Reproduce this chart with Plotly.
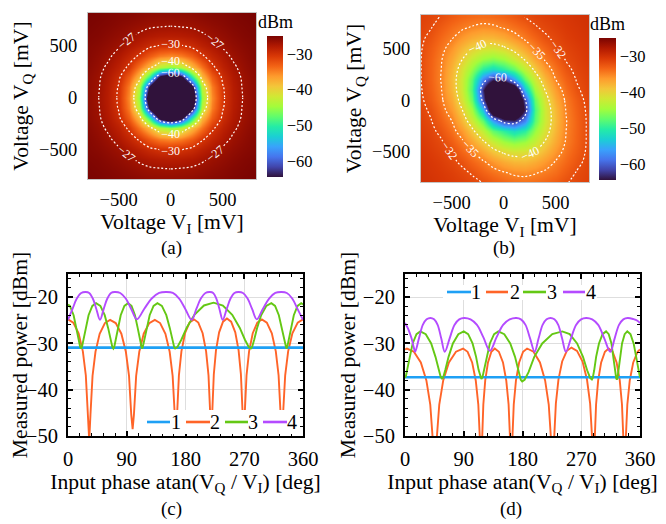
import plotly.graph_objects as go

# The page body keeps the browser's default 8 px margin, so the figure is laid out
# 8 px smaller than the window and all reference pixel positions are shifted by 8 px.
WIN_W, WIN_H, BODY = 666, 524, 8
W, H = WIN_W - BODY, WIN_H - BODY
FONT = "Liberation Serif"

# ---------------- heat-map data (dBm), rows follow volt_mv on the y axis ----------------
volt_mv = [-800, -700, -600, -500, -400, -300, -200, -100, 0, 100, 200, 300, 400, 500, 600, 700, 800]

power_a = [
    [-25.0, -25.1, -25.3, -25.5, -25.6, -25.8, -26.0, -26.1, -26.1, -26.1, -26.0, -25.8, -25.6, -25.5, -25.3, -25.1, -25.0],
    [-25.1, -25.3, -25.5, -25.8, -26.1, -26.4, -26.7, -26.8, -26.9, -26.8, -26.7, -26.4, -26.1, -25.8, -25.5, -25.3, -25.1],
    [-25.3, -25.5, -25.85, -26.25, -26.7, -27.3, -27.8, -28.1, -28.2, -28.1, -27.8, -27.3, -26.7, -26.25, -25.85, -25.5, -25.3],
    [-25.5, -25.8, -26.25, -26.8, -27.7, -28.5, -29.5, -30.2, -30.4, -30.2, -29.5, -28.5, -27.7, -26.8, -26.25, -25.8, -25.5],
    [-25.6, -26.1, -26.7, -27.7, -28.9, -30.4, -33.0, -34.8, -35.5, -34.8, -33.0, -30.4, -28.9, -27.7, -26.7, -26.1, -25.6],
    [-25.8, -26.4, -27.3, -28.5, -30.4, -34.2, -38.3, -43.4, -45.5, -43.4, -38.3, -34.2, -30.4, -28.5, -27.3, -26.4, -25.8],
    [-26.0, -26.7, -27.8, -29.5, -33.0, -38.3, -50.5, -66.3, -72.0, -66.3, -50.5, -38.3, -33.0, -29.5, -27.8, -26.7, -26.0],
    [-26.1, -26.8, -28.1, -30.2, -34.8, -43.4, -66.3, -80.0, -80.0, -80.0, -66.3, -43.4, -34.8, -30.2, -28.1, -26.8, -26.1],
    [-26.1, -26.9, -28.2, -30.4, -35.5, -45.5, -72.0, -80.0, -80.0, -80.0, -72.0, -45.5, -35.5, -30.4, -28.2, -26.9, -26.1],
    [-26.1, -26.8, -28.1, -30.2, -34.8, -43.4, -66.3, -80.0, -80.0, -80.0, -66.3, -43.4, -34.8, -30.2, -28.1, -26.8, -26.1],
    [-26.0, -26.7, -27.8, -29.5, -33.0, -38.3, -50.5, -66.3, -72.0, -66.3, -50.5, -38.3, -33.0, -29.5, -27.8, -26.7, -26.0],
    [-25.8, -26.4, -27.3, -28.5, -30.4, -34.2, -38.3, -43.4, -45.5, -43.4, -38.3, -34.2, -30.4, -28.5, -27.3, -26.4, -25.8],
    [-25.6, -26.1, -26.7, -27.7, -28.9, -30.4, -33.0, -34.8, -35.5, -34.8, -33.0, -30.4, -28.9, -27.7, -26.7, -26.1, -25.6],
    [-25.5, -25.8, -26.25, -26.8, -27.7, -28.5, -29.5, -30.2, -30.4, -30.2, -29.5, -28.5, -27.7, -26.8, -26.25, -25.8, -25.5],
    [-25.3, -25.5, -25.85, -26.25, -26.7, -27.3, -27.8, -28.1, -28.2, -28.1, -27.8, -27.3, -26.7, -26.25, -25.85, -25.5, -25.3],
    [-25.1, -25.3, -25.5, -25.8, -26.1, -26.4, -26.7, -26.8, -26.9, -26.8, -26.7, -26.4, -26.1, -25.8, -25.5, -25.3, -25.1],
    [-25.0, -25.1, -25.3, -25.5, -25.6, -25.8, -26.0, -26.1, -26.1, -26.1, -26.0, -25.8, -25.6, -25.5, -25.3, -25.1, -25.0],
]

power_b = [
    [-30.0, -30.2, -30.5, -30.8, -31.1, -31.5, -32.0, -32.8, -33.4, -33.8, -34.0, -33.8, -33.5, -32.9, -32.1, -31.6, -31.2],
    [-30.1, -30.4, -30.7, -31.1, -31.6, -32.2, -33.3, -34.1, -34.8, -35.4, -35.6, -35.2, -34.6, -33.9, -32.9, -31.9, -31.4],
    [-30.3, -30.6, -31.0, -31.6, -32.3, -33.5, -34.6, -36.0, -37.3, -38.1, -38.2, -37.4, -36.2, -34.8, -33.7, -32.5, -31.6],
    [-30.5, -30.9, -31.4, -32.1, -33.5, -34.8, -36.8, -38.9, -40.5, -41.4, -41.2, -39.9, -38.1, -36.0, -34.3, -33.0, -31.8],
    [-30.7, -31.2, -31.8, -33.1, -34.6, -36.9, -39.6, -42.4, -44.8, -45.9, -45.0, -42.7, -39.8, -37.1, -34.8, -33.3, -31.9],
    [-31.0, -31.5, -32.5, -34.1, -36.2, -39.3, -43.0, -47.5, -50.0, -52.0, -50.1, -45.3, -41.4, -37.9, -35.0, -33.4, -31.9],
    [-31.2, -31.9, -33.3, -35.0, -38.1, -42.0, -47.5, -56.0, -62.0, -63.0, -57.6, -47.8, -42.2, -38.3, -35.1, -33.4, -31.9],
    [-31.4, -32.3, -34.0, -36.3, -39.8, -44.7, -54.3, -71.1, -75.0, -74.9, -63.2, -48.6, -42.2, -38.1, -34.9, -33.2, -31.8],
    [-31.6, -32.9, -34.6, -37.3, -41.4, -47.3, -61.3, -75.0, -75.0, -75.0, -61.3, -47.3, -41.4, -37.3, -34.6, -32.9, -31.6],
    [-31.8, -33.2, -34.9, -38.1, -42.2, -48.6, -63.2, -74.9, -75.0, -71.1, -54.3, -44.7, -39.8, -36.3, -34.0, -32.3, -31.4],
    [-31.9, -33.4, -35.1, -38.3, -42.2, -47.8, -57.6, -63.0, -62.0, -56.0, -47.5, -42.0, -38.1, -35.0, -33.3, -31.9, -31.2],
    [-31.9, -33.4, -35.0, -37.9, -41.4, -45.3, -50.1, -52.0, -50.0, -47.5, -43.0, -39.3, -36.2, -34.1, -32.5, -31.5, -31.0],
    [-31.9, -33.3, -34.8, -37.1, -39.8, -42.7, -45.0, -45.9, -44.8, -42.4, -39.6, -36.9, -34.6, -33.1, -31.8, -31.2, -30.7],
    [-31.8, -33.0, -34.3, -36.0, -38.1, -39.9, -41.2, -41.4, -40.5, -38.9, -36.8, -34.8, -33.5, -32.1, -31.4, -30.9, -30.5],
    [-31.6, -32.5, -33.7, -34.8, -36.2, -37.4, -38.2, -38.1, -37.3, -36.0, -34.6, -33.5, -32.3, -31.6, -31.0, -30.6, -30.3],
    [-31.4, -31.9, -32.9, -33.9, -34.6, -35.2, -35.6, -35.4, -34.8, -34.1, -33.3, -32.2, -31.6, -31.1, -30.7, -30.4, -30.1],
    [-31.2, -31.6, -32.1, -32.9, -33.5, -33.8, -34.0, -33.8, -33.4, -32.8, -32.0, -31.5, -31.1, -30.8, -30.5, -30.2, -30.0],
]

# contour levels and how each level's lines are split into labelled pieces
levels_a = [-60, -40, -30, -27]
levels_b = [-60, -40, -35, -32]
split_a = {-60: "full", -40: "tb", -30: "tb", -27: "quad"}
split_b = {-60: "full", -40: "lr", -35: "tb", -32: "lr"}
volt_ticks = [-500, 0, 500]
cbar_ticks = [-60, -50, -40, -30]

# ---------------- line-plot data: input phase (deg) vs measured power (dBm) ----------------
series_names = ["1", "2", "3", "4"]
series_colors = ["#1EA0F5", "#FF6428", "#64C814", "#B44BFF"]
phase_ticks = [0, 90, 180, 270, 360]
power_ticks = [-50, -40, -30, -20]

# panel (c)
c1_phase = [0, 360]
c1_power = [-30.9, -30.9]
c2_phase = [0, 8.1, 16.25, 22.75, 27.3, 30.55, 32.5, 34.4, 37.6, 42.1, 48.5, 56.5, 64.5,
            73.1, 81.75, 88.65, 93.5, 96.9, 99, 101.0, 104.4, 109.2, 116, 124.5, 133,
            141.1, 149.25, 155.75, 160.3, 163.55, 165.5, 167.15, 169.9, 173.75, 179.25, 186.1, 193,
            199.6, 206.25, 211.55, 215.25, 217.9, 219.5, 220.95, 223.35, 226.7, 231.5, 237.5, 243.5,
            249.9, 256.25, 261.35, 264.9, 267.5, 269, 270.7, 273.5, 277.4, 283, 290, 297,
            304.6, 312.25, 318.35, 322.6, 325.7, 327.5, 329.45, 332.7, 337.25, 343.75, 351.9, 360]
c2_power = [-24.8, -25.5, -27.8, -31.7, -36.9, -45.3, -51.0, -45.4, -37.0, -31.8, -27.9, -25.6, -24.9,
            -25.6, -27.9, -31.8, -37.0, -45.4, -48.5, -45.4, -37.0, -31.8, -27.9, -25.6, -24.9,
            -25.6, -27.9, -31.8, -37.0, -45.4, -49.0, -45.3, -36.9, -31.7, -27.8, -25.5, -24.8,
            -25.5, -27.8, -31.7, -36.9, -45.3, -49.0, -45.1, -36.7, -31.5, -27.6, -25.3, -24.6,
            -25.3, -27.6, -31.5, -36.7, -45.1, -49.0, -45.3, -36.9, -31.7, -27.8, -25.5, -24.8,
            -25.5, -27.8, -31.7, -36.9, -45.3, -49.0, -45.3, -36.9, -31.7, -27.8, -25.5, -24.8]
c3_phase = [0, 2.94, 8.6, 13.2, 16.4, 18.6, 20, 21.4, 23.7, 26.9, 31.5, 37.25, 43,
            49.6, 56.25, 61.55, 65.3, 67.9, 69.5, 70.85, 73.1, 76.25, 80.75, 86.4, 92,
            97.3, 102.6, 106.8, 109.8, 111.9, 113.2, 114.6, 117, 120.3, 125.1, 131.05, 137,
            143.8, 150.6, 156.0, 159.85, 162.6, 164.2, 167.7, 173.6, 181.8, 193.6, 208.3, 223,
            237.3, 251.6, 263.0, 271.05, 276.8, 280.2, 282.1, 285.2, 289.6, 295.85, 303.7, 311.5,
            317.25, 323, 327.6, 330.8, 333.1, 334.5, 335.9, 338.1, 341.3, 345.9, 351.6, 357.25, 360]
c3_power = [-21.6, -21.9, -23.9, -26.7, -29.2, -30.75, -31.1, -30.75, -29.2, -26.7, -23.9, -21.9, -21.3,
            -21.9, -23.9, -26.7, -29.2, -30.75, -31.1, -30.75, -29.2, -26.7, -23.9, -21.9, -21.3,
            -21.9, -23.9, -26.7, -29.2, -30.75, -31.1, -30.75, -29.2, -26.7, -23.9, -21.9, -21.3,
            -21.9, -23.9, -26.7, -29.2, -30.75, -31.1, -30.75, -29.2, -26.6, -23.8, -21.8, -21.2,
            -21.8, -23.8, -26.6, -29.2, -30.75, -31.1, -30.75, -29.2, -26.7, -23.9, -21.9, -21.3,
            -21.9, -23.9, -26.7, -29.2, -30.75, -31.1, -30.75, -29.2, -26.7, -23.9, -21.9, -21.3, -21.6]
c4_phase = [0, 6.75, 13.5, 20.25, 27, 32.5, 38, 43.5, 49, 54.6, 60.25, 65.9, 71.5,
            80, 88.5, 97, 105.5, 116.9, 128.25, 139.6, 151, 160.6, 170.25, 179.9, 189.5,
            196.5, 203.5, 210.5, 217.5, 222.4, 227.25, 232.1, 237, 243, 249, 255, 261,
            268.05, 275.1, 282.15, 289.2, 298.65, 308.1, 317.55, 327, 335.25, 343.5, 351.75, 360]
c4_power = [-24.9, -22.6, -20.3, -19.1, -18.9, -19.1, -20.3, -22.6, -24.9, -22.6, -20.3, -19.1, -18.9,
            -19.1, -20.3, -22.6, -24.8, -22.5, -20.3, -19.1, -18.9, -19.1, -20.3, -22.6, -24.9,
            -22.6, -20.3, -19.1, -18.9, -19.1, -20.3, -22.6, -24.9, -22.6, -20.3, -19.1, -18.9,
            -19.1, -20.3, -22.6, -24.8, -22.5, -20.3, -19.1, -18.9, -19.1, -20.3, -22.6, -24.9]

# panel (d)
d1_phase = [0, 360]
d1_power = [-37.3, -37.3]
d2_phase = [0, 3, 13.6, 24.25, 32.75, 38.7, 42.95, 45.5, 48.1, 52.5, 58.55, 67.25, 78.1, 89,
            95.9, 102.85, 108.4, 112.3, 115.0, 116.7, 117.95, 120.0, 122.9, 127.1, 132.3, 137.5,
            143.8, 150.1, 155.1, 158.7, 161.2, 162.7, 164.2, 166.6, 170.0, 174.85, 180.9, 187,
            196.9, 206.75, 214.65, 220.2, 224.1, 226.5, 228.2, 231.1, 235.05, 240.75, 247.9, 255,
            263.5, 272, 278.8, 283.6, 287.0, 289, 290.4, 292.7, 295.9, 300.5, 306.25, 312,
            318.1, 324.15, 329.0, 332.4, 334.8, 336.3, 337.9, 340.6, 344.3, 349.65, 356.3, 360]
d2_power = [-31.3, -31.1, -31.8, -34.1, -38.0, -43.2, -51.6, -70.0, -51.6, -43.2, -38.0, -34.1, -31.8, -31.1,
            -31.8, -34.1, -38.0, -43.2, -51.6, -70.0, -51.6, -43.2, -38.0, -34.1, -31.8, -31.1,
            -31.8, -34.1, -38.0, -43.2, -51.6, -70.0, -51.6, -43.2, -38.0, -34.1, -31.8, -31.1,
            -31.8, -34.1, -38.0, -43.2, -51.6, -70.0, -51.4, -43.0, -37.8, -33.9, -31.6, -30.9,
            -31.6, -33.9, -37.8, -43.0, -51.4, -70.0, -51.6, -43.2, -38.0, -34.1, -31.8, -31.1,
            -31.8, -34.1, -38.0, -43.2, -51.6, -70.0, -51.6, -43.2, -38.0, -34.1, -31.8, -31.3]
d3_phase = [0, 1.4, 3.76, 7.05, 11.75, 17.6, 23.5, 31.8, 40.1, 46.7, 51.4, 54.7, 56.7,
            58.7, 62.0, 66.7, 73.35, 81.7, 90, 96.75, 103.5, 108.9, 112.7, 115.4, 117,
            118.6, 121.2, 124.8, 130, 136.5, 143, 152.1, 161.25, 168.55, 173.7, 177.3, 179.5,
            183.2, 189.3, 198, 210.25, 225.6, 241, 252.3, 263.65, 272.7, 279.05, 283.6, 286.3,
            287.6, 289.8, 292.8, 297.15, 302.6, 308, 312.1, 316.25, 319.55, 321.9, 323.5, 324.5,
            325.5, 327.1, 329.3, 332.5, 336.5, 340.5, 345.4, 350.25, 354.15, 356.9, 358.8, 360]
d3_power = [-37.4, -37.05, -35.4, -32.9, -30.0, -28.0, -27.4, -28.0, -30.0, -32.9, -35.6, -37.25, -37.6,
            -37.25, -35.6, -32.9, -30.0, -28.0, -27.4, -28.0, -30.0, -32.9, -35.7, -37.35, -37.7,
            -37.35, -35.7, -32.9, -30.0, -28.0, -27.4, -28.0, -30.0, -32.9, -36.2, -37.85, -38.2,
            -37.85, -36.2, -32.9, -30.0, -28.0, -27.4, -28.0, -30.0, -32.9, -35.8, -37.45, -37.8,
            -37.45, -35.8, -32.9, -30.0, -28.0, -27.4, -28.0, -30.0, -32.9, -35.8, -37.45, -37.8,
            -37.45, -35.8, -32.9, -30.0, -28.0, -27.4, -28.0, -30.0, -32.9, -35.4, -37.05, -37.4]
d4_phase = [0, 5, 10, 13.5, 15.5, 21.4, 27.25, 33.1, 39, 44.5, 50, 55.5, 61,
            68.4, 75.75, 83.1, 90.5, 100.4, 110.25, 120.1, 130, 140.15, 150.3, 160.45, 170.6,
            177.6, 184.6, 191.6, 198.6, 204.7, 210.8, 216.9, 223, 228.9, 234.75, 240.6, 246.5,
            254.25, 262, 269.75, 277.5, 286.75, 296, 305.25, 314.5, 321.2, 327.85, 334.5, 341.2,
            350, 356, 360]
d4_power = [-25.6, -26.9, -28.9, -30.9, -31.8, -28.9, -26.0, -24.8, -24.5, -24.8, -26.0, -28.9, -31.8,
            -28.9, -26.0, -24.8, -24.5, -24.8, -26.0, -28.7, -31.6, -28.7, -26.0, -24.8, -24.5,
            -24.8, -26.0, -28.9, -31.8, -28.9, -26.0, -24.8, -24.5, -24.8, -26.0, -28.9, -31.8,
            -28.9, -26.0, -24.8, -24.5, -24.8, -26.0, -28.9, -31.8, -28.9, -26.0, -24.8, -24.5,
            -24.75, -25.1, -25.6]

panel_c = [(c1_phase, c1_power), (c2_phase, c2_power), (c3_phase, c3_power), (c4_phase, c4_power)]
panel_d = [(d1_phase, d1_power), (d2_phase, d2_power), (d3_phase, d3_power), (d4_phase, d4_power)]

# ---------------- figure ----------------
fig = go.Figure()


def pxx(p):  # window pixel -> paper fraction
    return (p - BODY) / W


def pxy(p):
    return 1 - (p - BODY) / H


LO = list(range(0, 9))    # indices of volt_mv <= 0
HI = list(range(8, 17))   # indices of volt_mv >= 0
ALL = list(range(17))
PIECES = {"full": [(ALL, ALL)],
          "lr": [(LO, ALL), (HI, ALL)],
          "tb": [(ALL, LO), (ALL, HI)],
          "quad": [(LO, LO), (HI, LO), (LO, HI), (HI, HI)]}


def add_map(z, levels, split, xa, ya, cb_left, cb_top, cb_bottom, cb_thick):
    fig.add_trace(go.Heatmap(
        x=volt_mv, y=volt_mv, z=z, colorscale="Turbo", zmin=-64.5, zmax=-25,
        zsmooth="best", xaxis=xa, yaxis=ya, hoverinfo="skip",
        colorbar=dict(x=pxx(cb_left), xanchor="left", xpad=0,
                      y=pxy((cb_top + cb_bottom) / 2), yanchor="middle", ypad=0,
                      len=(cb_bottom - cb_top) / H, lenmode="fraction",
                      thickness=cb_thick, thicknessmode="pixels",
                      tickvals=cbar_ticks, ticks="", outlinewidth=0,
                      tickfont=dict(family=FONT, size=16.5, color="black")),
    ))
    for lv in levels:
        for xi, yi in PIECES[split[lv]]:
            fig.add_trace(go.Contour(
                x=[volt_mv[i] for i in xi], y=[volt_mv[j] for j in yi],
                z=[[z[j][i] for i in xi] for j in yi],
                autocontour=False, showscale=False,
                contours=dict(start=lv, end=lv, size=1, coloring="none", showlabels=True,
                              labelfont=dict(family=FONT, size=12, color="white")),
                line=dict(color="white", width=1.2, dash="2px,2px", smoothing=1),
                xaxis=xa, yaxis=ya, hoverinfo="skip",
            ))


add_map(power_a, levels_a, split_a, "x", "y", 267, 36, 177, 16)
add_map(power_b, levels_b, split_b, "x2", "y2", 599, 38, 180, 17)

for panel, xa, ya in [(panel_c, "x3", "y3"), (panel_d, "x4", "y4")]:
    for k in [1, 0, 2, 3]:
        ph, pw = panel[k]
        fig.add_trace(go.Scatter(
            x=ph, y=pw, mode="lines", name=series_names[k], xaxis=xa, yaxis=ya,
            line=dict(color=series_colors[k], width=2.6 if k == 0 else 1.9,
                      shape="spline" if k == 3 else "linear", smoothing=1),
            showlegend=False, hoverinfo="skip",
        ))

tickfont_map = dict(family=FONT, size=18.5, color="black")
titlefont = dict(family=FONT, size=21.6, color="black")


def map_axes(xdom, ydom):
    xa = dict(domain=xdom, range=[-795, 820], tickvals=volt_ticks, ticks="", showgrid=False,
              zeroline=False, showline=True, linecolor="#c4c4c4", linewidth=1, mirror=True,
              tickfont=tickfont_map, ticklabelstandoff=4, automargin=False,
              title=dict(text="Voltage V<sub>I</sub> [mV]", font=titlefont, standoff=2))
    ya = dict(domain=ydom, range=[-790, 820], tickvals=volt_ticks, ticks="", showgrid=False,
              zeroline=False, showline=True, linecolor="#c4c4c4", linewidth=1, mirror=True,
              tickfont=tickfont_map, ticklabelstandoff=6, automargin=False,
              title=dict(text="Voltage V<sub>Q</sub> [mV]", font=titlefont, standoff=4))
    return xa, ya


def line_axes(xdom, ydom):
    common = dict(showline=True, linecolor="black", linewidth=2, mirror="allticks",
                  ticks="inside", ticklen=5, tickwidth=1.5, tickcolor="black",
                  showgrid=True, gridcolor="#dedede", gridwidth=1, zeroline=False,
                  automargin=False, tickfont=dict(family=FONT, size=20.5, color="black"))
    xa = dict(domain=xdom, range=[0, 360], tickmode="array", tickvals=phase_ticks,
              minor=dict(dtick=18, tick0=0, ticks="inside", ticklen=3, tickwidth=1,
                         tickcolor="black", showgrid=False),
              ticklabelstandoff=3,
              title=dict(text="Input phase atan(V<sub>Q</sub> / V<sub>I</sub>) [deg]",
                         font=titlefont, standoff=1), **common)
    ya = dict(domain=ydom, range=[-50, -15], tickmode="array", tickvals=power_ticks,
              minor=dict(dtick=2, tick0=-50, ticks="inside", ticklen=3, tickwidth=1,
                         tickcolor="black", showgrid=False),
              ticklabelstandoff=4,
              title=dict(text="Measured power [dBm]", font=titlefont, standoff=1), **common)
    return xa, ya


xa1, ya1 = map_axes([pxx(88), pxx(256)], [pxy(179), pxy(13)])
xa2, ya2 = map_axes([pxx(421), pxx(589)], [pxy(182), pxy(15)])
xa3, ya3 = line_axes([pxx(68), pxx(303)], [pxy(436), pxy(274)])
xa4, ya4 = line_axes([pxx(405), pxx(640)], [pxy(436), pxy(274)])

fig.update_layout(
    width=W, height=H, margin=dict(l=0, r=0, t=0, b=0, autoexpand=False),
    paper_bgcolor="white", plot_bgcolor="white", showlegend=False,
    font=dict(family=FONT, color="black"),
    xaxis=dict(anchor="y", **xa1), yaxis=dict(anchor="x", **ya1),
    xaxis2=dict(anchor="y2", **xa2), yaxis2=dict(anchor="x2", **ya2),
    xaxis3=dict(anchor="y3", **xa3), yaxis3=dict(anchor="x3", **ya3),
    xaxis4=dict(anchor="y4", **xa4), yaxis4=dict(anchor="x4", **ya4),
)

annotations = []
shapes = []
for txt, x, y in [("(a)", 171, 248), ("(b)", 504, 248), ("(c)", 171, 509), ("(d)", 511, 509)]:
    annotations.append(dict(text=txt, x=pxx(x), y=pxy(y), xref="paper", yref="paper",
                            showarrow=False, xanchor="center", yanchor="middle",
                            font=dict(family=FONT, size=19, color="black")))
for x, y in [(275, 22), (607, 24)]:
    annotations.append(dict(text="dBm", x=pxx(x), y=pxy(y), xref="paper", yref="paper",
                            showarrow=False, xanchor="center", yanchor="middle",
                            font=dict(family=FONT, size=18, color="black")))

legend_specs = [
    dict(box=(143, 410, 299, 434), y=422, lines=[(147, 170), (186, 210), (225, 248), (263, 287)],
         labels=[176, 215, 253, 292]),
    dict(box=(443, 285, 597, 300), y=292, lines=[(447, 471), (486, 508), (523, 546), (563, 585)],
         labels=[476, 515, 552, 591]),
]
for spec in legend_specs:
    x0, y0, x1, y1 = spec["box"]
    shapes.append(dict(type="rect", xref="paper", yref="paper", x0=pxx(x0), x1=pxx(x1),
                       y0=pxy(y1), y1=pxy(y0), fillcolor="white", line=dict(width=0)))
    for k in range(4):
        lx0, lx1 = spec["lines"][k]
        shapes.append(dict(type="line", xref="paper", yref="paper", x0=pxx(lx0), x1=pxx(lx1),
                           y0=pxy(spec["y"]), y1=pxy(spec["y"]),
                           line=dict(color=series_colors[k], width=2.6)))
        annotations.append(dict(text=series_names[k], x=pxx(spec["labels"][k]), y=pxy(spec["y"]),
                                xref="paper", yref="paper", showarrow=False,
                                xanchor="center", yanchor="middle",
                                font=dict(family=FONT, size=20, color="black")))

fig.update_layout(annotations=annotations, shapes=shapes)
fig.write_html("out.html")
